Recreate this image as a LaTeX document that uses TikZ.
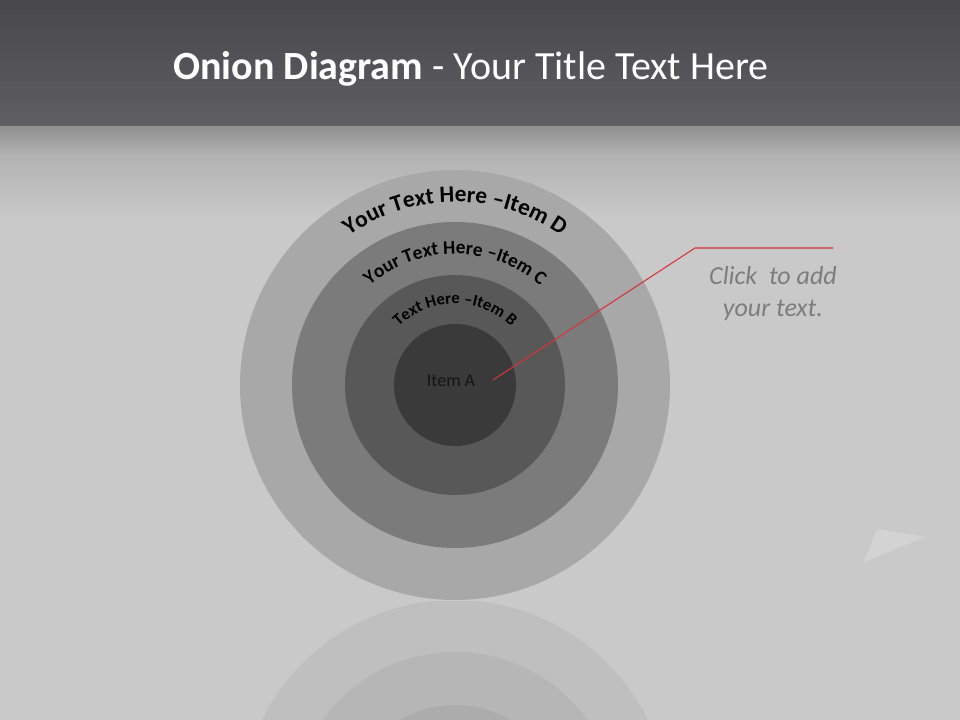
\documentclass[tikz,border=0pt]{standalone}
\usepackage{fontspec}
\setmainfont{Carlito}
\usetikzlibrary{decorations.text}
\definecolor{bandtop}{RGB}{72, 71, 76}
\definecolor{bandlow}{RGB}{95, 94, 99}
\definecolor{slidegray}{RGB}{201, 201, 201}
\definecolor{ringD}{RGB}{168, 168, 169}
\definecolor{ringC}{RGB}{123, 123, 124}
\definecolor{ringB}{RGB}{88, 88, 89}
\definecolor{ringA}{RGB}{58, 58, 59}
\definecolor{leadred}{RGB}{214, 52, 56}
\definecolor{notegray}{RGB}{125, 125, 125}

\begin{document}
\begin{tikzpicture}[x=0.75pt, y=0.75pt,
	ring/.style={circle, inner sep=0pt},
	arctext/.style={decorate, decoration={text along path, text align=center, text color=black}}]
	\useasboundingbox (0,0) rectangle (960,720);
	\fill[slidegray] (0,0) rectangle (960,720);
	\shade[top color=bandtop, bottom color=bandlow] (0,720) rectangle (960,593);
	\shade[top color=black!43, bottom color=black!30] (0,593) rectangle (960,565);
	\shade[top color=black!30, bottom color=slidegray] (0,565) rectangle (960,500);
	\fill[white, opacity=0.2] (864,158) -- (877,191) -- (925,183) -- cycle;
	\begin{scope}
		\clip (0,0) rectangle (960,118);
		\fill[ringD, opacity=0.3] (455,-95) circle (215);
		\fill[ringC, opacity=0.13] (455,-95) circle (163);
		\fill[ringB, opacity=0.1] (455,-95) circle (110);
	\end{scope}
	\node[anchor=base, text=white, font=\fontsize{30}{36}\selectfont] (title) at (471,640) {\textbf{Onion Diagram} - Your Title Text Here};
	\coordinate (ctr) at (455,335);
	\node[ring, fill=ringD, minimum size=322.5pt] (itemD) at (ctr) {};
	\node[ring, fill=ringC, minimum size=244.5pt] (itemC) at (ctr) {};
	\node[ring, fill=ringB, minimum size=165pt] (itemB) at (ctr) {};
	\node[ring, fill=ringA, minimum size=91.5pt] (itemA) at (ctr) {};
	\node[text=black!92, font=\fontsize{13.5}{16}\selectfont] (itemAtext) at (451,339) {Item A};
	\path[arctext, decoration={text={|\fontsize{17.5}{17.5}\selectfont\bfseries|Your Text Here –Item D}}] ([shift={(170:183)}]ctr) arc (170:10:183);
	\path[arctext, decoration={text={|\fontsize{14.5}{14.5}\selectfont\bfseries|Your Text Here –Item C}}] ([shift={(170:131)}]ctr) arc (170:10:131);
	\path[arctext, decoration={text={|\fontsize{12.5}{12.5}\selectfont\bfseries|Text Here –Item B}}] ([shift={(170:81)}]ctr) arc (170:10:81);
	\coordinate (tip) at (493,340);
	\coordinate (elbow) at (695,472);
	\coordinate (tail) at (833,472);
	\draw[leadred, line width=0.8pt] (tip) -- (elbow) -- (tail);
	\node[text=notegray, align=center, font=\fontsize{19.5}{24}\selectfont\itshape] (note) at (773,426) {Click~\ to add\\your text.};
\end{tikzpicture}
\end{document}
